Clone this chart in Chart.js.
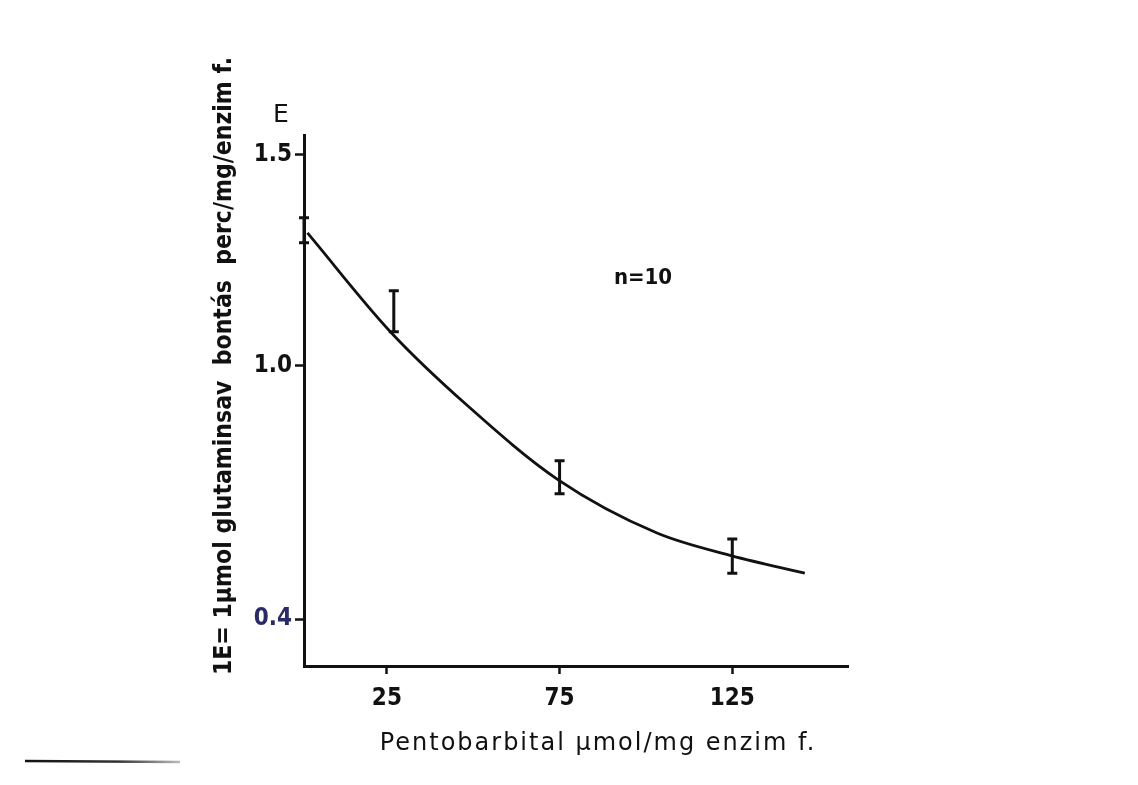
<!DOCTYPE html>
<html><head><meta charset="utf-8">
<script src="https://cdn.jsdelivr.net/npm/chart.js@4.4.1/dist/chart.umd.min.js"></script>
<style>html,body{margin:0;padding:0;background:#fff;}#wrap{width:1138px;height:785px;}canvas{display:block;}</style>
</head><body><div id="wrap"><canvas id="c" width="1138" height="785"></canvas></div>
<script>
// ---- data ----
const xTickValues = [25, 75, 125];
const yTickValues = [0.4, 1.0, 1.5];
const pointX    = [1, 27, 75, 125];
const pointLow  = [1.292, 1.081, 0.697, 0.509];
const pointHigh = [1.351, 1.178, 0.775, 0.590];
const curveX = [2, 26, 48.3, 74.6, 103.2, 124.9, 146];
const curveY = [1.315, 1.081, 0.906, 0.730, 0.604, 0.550, 0.509];
const xTitle = 'Pentobarbital µmol/mg enzim f.';
const yTitle = '1E= 1µmol glutaminsav  bontás  perc/mg/enzim f.';
const yUnitLabel = 'E';
const nLabel = 'n=10';

const FONT = '"DejaVu Sans Condensed", "DejaVu Sans", sans-serif';
const FONT_WIDE = '"DejaVu Sans", sans-serif';
const INK = '#111';

const textPlugin = {
  id: 'texts',
  afterDraw(chart) {
    const ctx = chart.ctx;
    ctx.save();
    ctx.fillStyle = INK;
    ctx.textAlign = 'center';
    ctx.textBaseline = 'middle';
    // y axis title (rotated)
    ctx.save();
    ctx.translate(225, 366);
    ctx.rotate(-Math.PI / 2);
    ctx.font = 'bold 24.5px ' + FONT;
    ctx.fillText(yTitle, 0, 0);
    ctx.restore();
    // x axis title
    ctx.font = '24px ' + FONT_WIDE;
    if ('letterSpacing' in ctx) ctx.letterSpacing = '2px';
    ctx.fillText(xTitle, 598, 744);
    if ('letterSpacing' in ctx) ctx.letterSpacing = '0px';
    // unit label
    ctx.font = '25px ' + FONT_WIDE;
    ctx.fillText(yUnitLabel, 281, 115);
    // n label
    ctx.font = 'bold 22px ' + FONT;
    ctx.fillText(nLabel, 643, 278);
    // small rule at lower left
    const g = ctx.createLinearGradient(25, 0, 180, 0);
    g.addColorStop(0, '#111'); g.addColorStop(0.6, '#333'); g.addColorStop(1, '#bbb');
    ctx.strokeStyle = g; ctx.lineWidth = 2.5;
    ctx.beginPath(); ctx.moveTo(25, 761); ctx.lineTo(180, 762); ctx.stroke();
    ctx.restore();
  }
};

const errorBarPlugin = {
  id: 'errorBars',
  afterDatasetsDraw(chart) {
    const {ctx, scales: {x, y}} = chart;
    const ds = chart.data.datasets[1];
    ctx.save();
    ctx.strokeStyle = INK; ctx.lineWidth = 3; ctx.lineCap = 'butt';
    ds.data.forEach(d => {
      const px = x.getPixelForValue(d.x);
      const top = y.getPixelForValue(d.yMax), bot = y.getPixelForValue(d.yMin);
      ctx.beginPath();
      ctx.moveTo(px, top); ctx.lineTo(px, bot);
      ctx.moveTo(px - 5, top); ctx.lineTo(px + 5, top);
      ctx.moveTo(px - 5, bot); ctx.lineTo(px + 5, bot);
      ctx.stroke();
    });
    ctx.restore();
  }
};

new Chart(document.getElementById('c'), {
  type: 'scatter',
  data: {
    datasets: [
      {
        label: 'fit',
        data: curveX.map((v, i) => ({x: v, y: curveY[i]})),
        showLine: true, borderColor: INK, borderWidth: 2.8,
        pointRadius: 0, cubicInterpolationMode: 'monotone', fill: false
      },
      {
        label: 'mean ± SE',
        data: pointX.map((v, i) => ({x: v, y: (pointLow[i] + pointHigh[i]) / 2, yMin: pointLow[i], yMax: pointHigh[i]})),
        pointRadius: 0, showLine: false
      }
    ]
  },
  options: {
    responsive: false, animation: false, devicePixelRatio: 1,
    layout: {padding: {top: 135, right: 290, left: 0, bottom: 0}},
    plugins: {legend: {display: false}, tooltip: {enabled: false}},
    scales: {
      x: {
        type: 'linear', min: 1, max: 158.5,
        afterBuildTicks: s => { s.ticks = xTickValues.map(v => ({value: v})); },
        afterFit: s => { s.height = 119; },
        grid: {display: true, drawOnChartArea: false, drawTicks: true, tickLength: 8, tickWidth: 2.5, tickColor: INK},
        border: {display: true, width: 3, color: INK},
        ticks: {color: INK, font: {family: FONT, size: 24, weight: 'bold'}, padding: 10, maxRotation: 0, autoSkip: false, callback: v => String(v)}
      },
      y: {
        type: 'linear', min: 0.289, max: 1.547,
        afterBuildTicks: s => { s.ticks = yTickValues.map(v => ({value: v})); },
        afterFit: s => { s.width = 304; },
        grid: {display: true, drawOnChartArea: false, drawTicks: true, tickLength: 9, tickWidth: 2.5, tickColor: INK},
        border: {display: true, width: 3, color: INK},
        ticks: {
          color: c => c.tick && c.tick.value === 0.4 ? '#2a2a66' : INK,
          font: {family: FONT, size: 24, weight: 'bold'}, padding: 3, autoSkip: false,
          callback: v => v.toFixed(1)
        }
      }
    }
  },
  plugins: [errorBarPlugin, textPlugin]
});
</script>
</body></html>
